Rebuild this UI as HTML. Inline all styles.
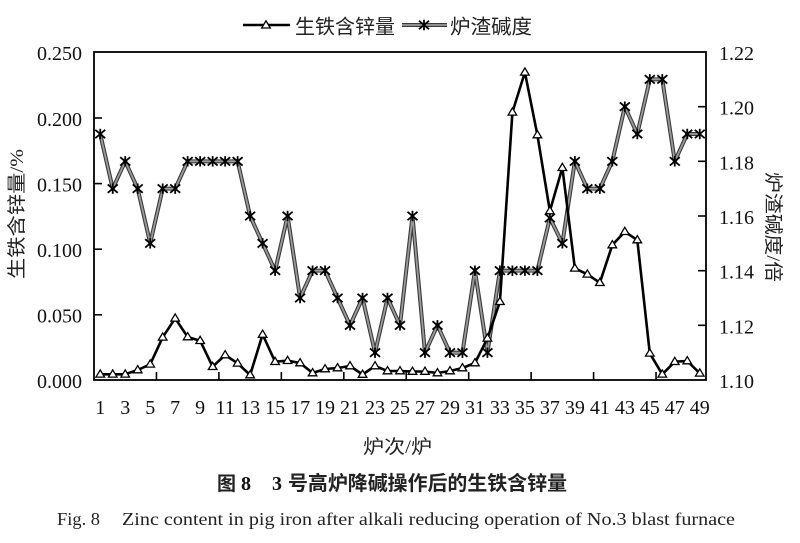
<!DOCTYPE html>
<html>
<head>
<meta charset="utf-8">
<style>
  html, body { margin: 0; padding: 0; background: #fff; }
  svg { display: block; }
  .num { font-family: "Liberation Serif", "Noto Serif CJK SC", serif; font-size: 20px; fill: #111; }
  .cjk { font-family: "Liberation Serif", "Noto Sans CJK SC", sans-serif; fill: #222; }
</style>
</head>
<body>
<svg width="800" height="543" viewBox="0 0 800 543" xmlns="http://www.w3.org/2000/svg">
  <defs>
    <marker id="tri" markerUnits="userSpaceOnUse" markerWidth="14" markerHeight="14" refX="6" refY="6.2" orient="0" overflow="visible">
      <path d="M6,1.8 L10.3,9 L1.7,9 Z" fill="#fff" stroke="#000" stroke-width="1.3"/>
    </marker>
    <marker id="star" markerUnits="userSpaceOnUse" markerWidth="14" markerHeight="14" refX="6" refY="6" orient="0" overflow="visible">
      <path d="M1,1.8 L11,10.2 M1,10.2 L11,1.8 M6,0.8 L6,11.2" fill="none" stroke="#000" stroke-width="1.8"/>
    </marker>
  </defs>

  <rect x="0" y="0" width="800" height="543" fill="#fff"/>

  <!-- Legend -->
  <line x1="243" y1="25" x2="290" y2="25" stroke="#000" stroke-width="2.6"/>
  <path d="M266,20.8 L270.3,28 L261.7,28 Z" fill="#fff" stroke="#000" stroke-width="1.3"/>
  <text class="cjk" x="295" y="33.5" font-size="20" textLength="100" lengthAdjust="spacingAndGlyphs">生铁含锌量</text>
  <line x1="402" y1="25" x2="447" y2="25" stroke="#3a3a3a" stroke-width="4"/>
  <line x1="402" y1="25" x2="447" y2="25" stroke="#9a9a9a" stroke-width="1.8"/>
  <path d="M419,20.8 L429,29.2 M419,29.2 L429,20.8 M424,19.8 L424,30.2" fill="none" stroke="#000" stroke-width="1.8"/>
  <text class="cjk" x="450" y="33.5" font-size="20" textLength="82" lengthAdjust="spacingAndGlyphs">炉渣碱度</text>

  <!-- Frame -->
  <rect x="94" y="52" width="612" height="328" fill="none" stroke="#000" stroke-width="1.8"/>

  <g stroke="#000" stroke-width="1.6">
    <line x1="94" y1="118" x2="102" y2="118"/>
    <line x1="94" y1="183.6" x2="102" y2="183.6"/>
    <line x1="94" y1="249.2" x2="102" y2="249.2"/>
    <line x1="94" y1="314.8" x2="102" y2="314.8"/>
    <line x1="706" y1="106.7" x2="698" y2="106.7"/>
    <line x1="706" y1="161.3" x2="698" y2="161.3"/>
    <line x1="706" y1="216" x2="698" y2="216"/>
    <line x1="706" y1="270.7" x2="698" y2="270.7"/>
    <line x1="706" y1="325.3" x2="698" y2="325.3"/>
    <line x1="156.45" y1="380" x2="156.45" y2="372"/>
    <line x1="218.9" y1="380" x2="218.9" y2="372"/>
    <line x1="281.35" y1="380" x2="281.35" y2="372"/>
    <line x1="343.8" y1="380" x2="343.8" y2="372"/>
    <line x1="406.25" y1="380" x2="406.25" y2="372"/>
    <line x1="468.7" y1="380" x2="468.7" y2="372"/>
    <line x1="531.15" y1="380" x2="531.15" y2="372"/>
    <line x1="593.6" y1="380" x2="593.6" y2="372"/>
    <line x1="656.05" y1="380" x2="656.05" y2="372"/>
  </g>

  <g class="num" text-anchor="end">
    <text x="82" y="60">0.250</text>
    <text x="82" y="126">0.200</text>
    <text x="82" y="191.5">0.150</text>
    <text x="82" y="257">0.100</text>
    <text x="82" y="322.5">0.050</text>
    <text x="82" y="388">0.000</text>
  </g>
  <g class="num" text-anchor="start">
    <text x="719" y="60">1.22</text>
    <text x="719" y="114.7">1.20</text>
    <text x="719" y="169.3">1.18</text>
    <text x="719" y="224">1.16</text>
    <text x="719" y="278.7">1.14</text>
    <text x="719" y="333.3">1.12</text>
    <text x="719" y="388">1.10</text>
  </g>
  <g class="num" text-anchor="middle">
    <text x="100.24" y="414">1</text>
    <text x="125.22" y="414">3</text>
    <text x="150.2" y="414">5</text>
    <text x="175.18" y="414">7</text>
    <text x="200.16" y="414">9</text>
    <text x="225.14" y="414">11</text>
    <text x="250.12" y="414">13</text>
    <text x="275.1" y="414">15</text>
    <text x="300.08" y="414">17</text>
    <text x="325.06" y="414">19</text>
    <text x="350.04" y="414">21</text>
    <text x="375.02" y="414">23</text>
    <text x="400" y="414">25</text>
    <text x="424.98" y="414">27</text>
    <text x="449.96" y="414">29</text>
    <text x="474.94" y="414">31</text>
    <text x="499.92" y="414">33</text>
    <text x="524.9" y="414">35</text>
    <text x="549.88" y="414">37</text>
    <text x="574.86" y="414">39</text>
    <text x="599.84" y="414">41</text>
    <text x="624.82" y="414">43</text>
    <text x="649.8" y="414">45</text>
    <text x="674.78" y="414">47</text>
    <text x="699.76" y="414">49</text>
  </g>

  <polyline fill="none" stroke="#3a3a3a" stroke-width="4" stroke-linejoin="round"
    points="100.24,134 112.73,188.67 125.22,161.33 137.71,188.67 150.2,243.33 162.69,188.67 175.18,188.67 187.67,161.33 200.16,161.33 212.65,161.33 225.14,161.33 237.63,161.33 250.12,216 262.61,243.33 275.1,270.67 287.59,216 300.08,298 312.57,270.67 325.06,270.67 337.55,298 350.04,325.33 362.53,298 375.02,352.67 387.51,298 400,325.33 412.49,216 424.98,352.67 437.47,325.33 449.96,352.67 462.45,352.67 474.94,270.67 487.43,352.67 499.92,270.67 512.41,270.67 524.9,270.67 537.39,270.67 549.88,218 562.37,243.33 574.86,161.33 587.35,188.67 599.84,188.67 612.33,161.33 624.82,106.67 637.31,134 649.8,79.33 662.29,79.33 674.78,161.33 687.27,134 699.76,134"/>
  <polyline fill="none" stroke="#9a9a9a" stroke-width="1.8" stroke-linejoin="round"
    points="100.24,134 112.73,188.67 125.22,161.33 137.71,188.67 150.2,243.33 162.69,188.67 175.18,188.67 187.67,161.33 200.16,161.33 212.65,161.33 225.14,161.33 237.63,161.33 250.12,216 262.61,243.33 275.1,270.67 287.59,216 300.08,298 312.57,270.67 325.06,270.67 337.55,298 350.04,325.33 362.53,298 375.02,352.67 387.51,298 400,325.33 412.49,216 424.98,352.67 437.47,325.33 449.96,352.67 462.45,352.67 474.94,270.67 487.43,352.67 499.92,270.67 512.41,270.67 524.9,270.67 537.39,270.67 549.88,218 562.37,243.33 574.86,161.33 587.35,188.67 599.84,188.67 612.33,161.33 624.82,106.67 637.31,134 649.8,79.33 662.29,79.33 674.78,161.33 687.27,134 699.76,134"/>
  <polyline fill="none" stroke="none" marker-start="url(#star)" marker-mid="url(#star)" marker-end="url(#star)"
    points="100.24,134 112.73,188.67 125.22,161.33 137.71,188.67 150.2,243.33 162.69,188.67 175.18,188.67 187.67,161.33 200.16,161.33 212.65,161.33 225.14,161.33 237.63,161.33 250.12,216 262.61,243.33 275.1,270.67 287.59,216 300.08,298 312.57,270.67 325.06,270.67 337.55,298 350.04,325.33 362.53,298 375.02,352.67 387.51,298 400,325.33 412.49,216 424.98,352.67 437.47,325.33 449.96,352.67 462.45,352.67 474.94,270.67 487.43,352.67 499.92,270.67 512.41,270.67 524.9,270.67 537.39,270.67 549.88,218 562.37,243.33 574.86,161.33 587.35,188.67 599.84,188.67 612.33,161.33 624.82,106.67 637.31,134 649.8,79.33 662.29,79.33 674.78,161.33 687.27,134 699.76,134"/>

  <polyline fill="none" stroke="#000" stroke-width="2.6" stroke-linejoin="round"
    marker-start="url(#tri)" marker-mid="url(#tri)" marker-end="url(#tri)"
    points="100.24,374.3 112.73,374.3 125.22,374.3 137.71,370 150.2,364.3 162.69,337.3 175.18,318.3 187.67,337 200.16,340.7 212.65,366.7 225.14,355 237.63,363.3 250.12,375 262.61,334.5 275.1,361.7 287.59,360.7 300.08,363 312.57,373 325.06,369 337.55,368 350.04,366 362.53,374.5 375.02,366 387.51,371 400,371 412.49,371.5 424.98,371.5 437.47,373 449.96,371 462.45,368 474.94,363 487.43,338.3 499.92,301.7 512.41,112.3 524.9,72.3 537.39,135 549.88,211 562.37,167.7 574.86,268.3 587.35,274.3 599.84,282.7 612.33,245 624.82,231.7 637.31,240 649.8,353.3 662.29,374.3 674.78,361.7 687.27,361 699.76,373.3"/>

  <g transform="translate(16,214) rotate(-90)">
    <text class="cjk" x="0" y="7" font-size="19" text-anchor="middle" textLength="130" lengthAdjust="spacingAndGlyphs">生铁含锌量/%</text>
  </g>
  <g transform="translate(774,227) rotate(90)">
    <text class="cjk" x="0" y="7" font-size="19" text-anchor="middle" textLength="110" lengthAdjust="spacingAndGlyphs">炉渣碱度/倍</text>
  </g>
  <text class="cjk" x="363" y="453" font-size="19" textLength="69" lengthAdjust="spacingAndGlyphs">炉次/炉</text>

  <text class="cjk" x="217" y="490" font-size="19" font-weight="bold" fill="#111">图</text>
  <text x="241" y="490" font-family="Liberation Serif, serif" font-size="20" font-weight="bold" fill="#111">8</text>
  <text x="272" y="490" font-family="Liberation Serif, serif" font-size="20" font-weight="bold" fill="#111">3</text>
  <text class="cjk" x="288" y="490" font-size="20" font-weight="bold" fill="#111" textLength="279" lengthAdjust="spacingAndGlyphs">号高炉降碱操作后的生铁含锌量</text>

  <text x="57" y="525" font-family="Liberation Serif, serif" font-size="18" fill="#222" textLength="43" lengthAdjust="spacingAndGlyphs">Fig. 8</text>
  <text x="122" y="525" font-family="Liberation Serif, serif" font-size="18" fill="#222" textLength="613" lengthAdjust="spacingAndGlyphs">Zinc content in pig iron after alkali reducing operation of No.3 blast furnace</text>
</svg>
</body>
</html>
